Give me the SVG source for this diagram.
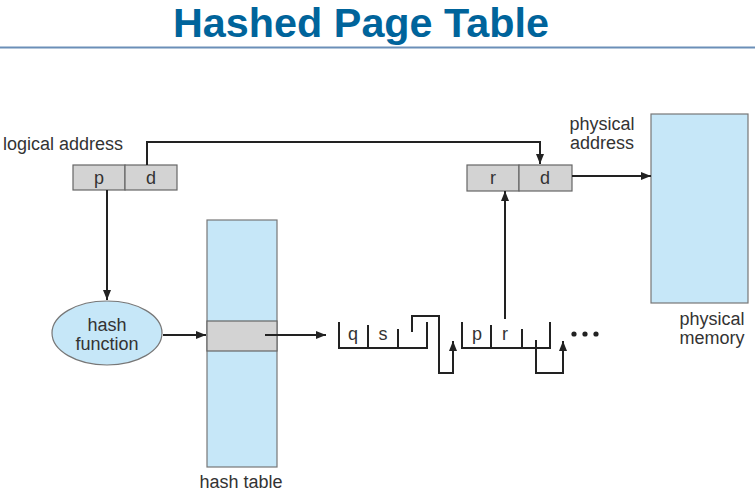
<svg xmlns="http://www.w3.org/2000/svg" width="755" height="500" viewBox="0 0 755 500">
<defs>
<marker id="ah" markerWidth="10" markerHeight="8" refX="10" refY="4" orient="auto" markerUnits="userSpaceOnUse">
<path d="M0,0 L10,4 L0,8 Z" fill="#222"/>
</marker>
</defs>
<style>
.t{font-family:"Liberation Sans",Arial,sans-serif;font-size:18px;fill:#333}
.tc{font-family:"Liberation Sans",Arial,sans-serif;font-size:18px;fill:#333;text-anchor:middle}
.blue{fill:#c6e7f8;stroke:#777;stroke-width:1.2}
.grey{fill:#d3d3d3;stroke:#666;stroke-width:1.2}
.ln{fill:none;stroke:#222;stroke-width:2}
.cl{fill:none;stroke:#222;stroke-width:2}
</style>
<rect width="755" height="500" fill="#fff"/>
<g id="title">
<text x="361" y="37" font-family="'Liberation Sans',Arial,sans-serif" font-weight="bold" font-size="40" fill="#00649b" text-anchor="middle" textLength="376" lengthAdjust="spacingAndGlyphs">Hashed Page Table</text>
<line x1="0" y1="47.5" x2="755" y2="47.5" stroke="#6b8fb8" stroke-width="2"/>
</g>
<g id="logical-address">
<text class="t" x="3" y="150">logical address</text>
<rect class="grey" x="73" y="165" width="52" height="25"/>
<rect class="grey" x="125" y="165" width="52" height="25"/>
<text class="tc" x="99" y="184">p</text>
<text class="tc" x="151" y="184">d</text>
</g>
<g id="physical-address">
<text class="tc" x="602" y="130">physical</text>
<text class="tc" x="602" y="149">address</text>
<rect class="grey" x="467" y="165" width="52" height="26"/>
<rect class="grey" x="519" y="165" width="53" height="26"/>
<text class="tc" x="493" y="184">r</text>
<text class="tc" x="545" y="184">d</text>
</g>
<g id="physical-memory">
<rect class="blue" x="651" y="114" width="97" height="189"/>
<text class="tc" x="712" y="325">physical</text>
<text class="tc" x="712" y="344">memory</text>
</g>
<g id="hash-function">
<ellipse cx="107" cy="333" rx="55" ry="32" class="blue"/>
<text class="tc" x="107" y="331">hash</text>
<text class="tc" x="107" y="350">function</text>
</g>
<g id="hash-table">
<rect class="blue" x="207" y="220" width="70" height="247"/>
<rect class="grey" x="207" y="321" width="70" height="30"/>
<text class="tc" x="241" y="488">hash table</text>
</g>
<g id="chain">
<path class="cl" d="M339,322 V348 H427 V322 M368,325 V348 M398,329 V348"/>
<text class="tc" x="353" y="340">q</text>
<text class="tc" x="383" y="340">s</text>
<path class="cl" d="M462,322 V348 H550 V322 M491,325 V348 M522,329 V348"/>
<text class="tc" x="477" y="340">p</text>
<text class="tc" x="505" y="340">r</text>
<circle cx="574" cy="334" r="2.6" fill="#222"/>
<circle cx="585" cy="334" r="2.6" fill="#222"/>
<circle cx="596" cy="334" r="2.6" fill="#222"/>
</g>
<g id="connectors">
<path class="ln" d="M147,165 V142 H540 V164" marker-end="url(#ah)"/>
<path class="ln" d="M572,176 H651" marker-end="url(#ah)"/>
<path class="ln" d="M107,190 V300" marker-end="url(#ah)"/>
<path class="ln" d="M163,335 H206" marker-end="url(#ah)"/>
<path class="ln" d="M265,335 H326" marker-end="url(#ah)"/>
<path class="ln" d="M412,332 V316 H439 V373 H453 V341" marker-end="url(#ah)"/>
<path class="ln" d="M536,340 V373 H563 V341" marker-end="url(#ah)"/>
<path class="ln" d="M505,319 V191" marker-end="url(#ah)"/>
</g>
</svg>
